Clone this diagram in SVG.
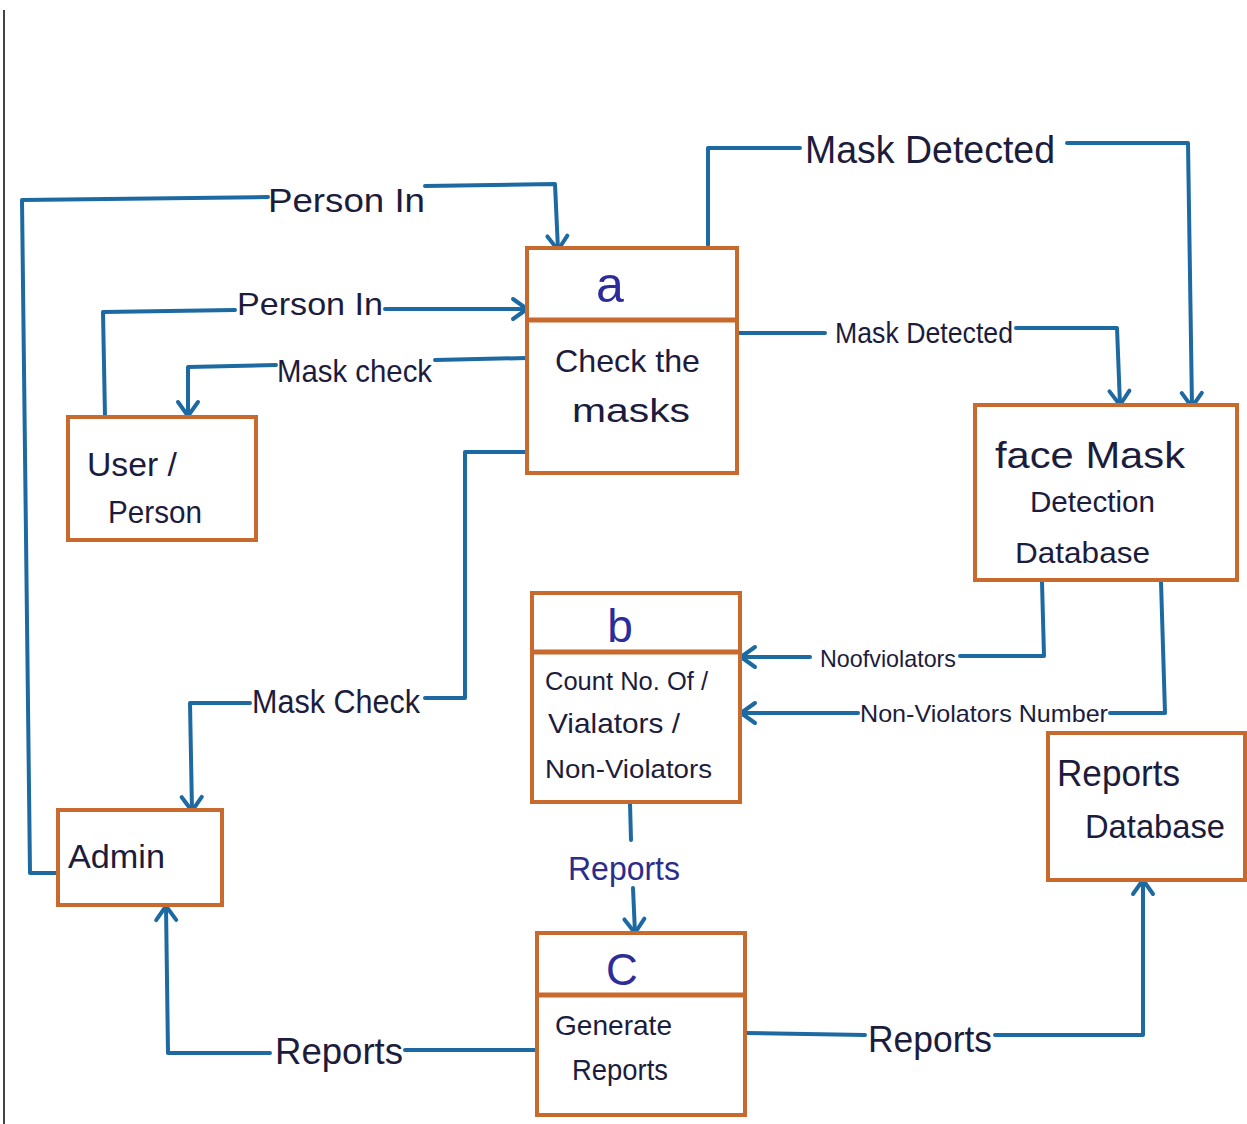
<svg xmlns="http://www.w3.org/2000/svg" width="1247" height="1124" viewBox="0 0 1247 1124">
<style>
.box{fill:#fff;stroke:#c8692e;stroke-width:4}
.div{stroke:#c8692e;stroke-width:5}
.ln{fill:none;stroke:#1d6aa3;stroke-width:4;stroke-linejoin:round;stroke-linecap:round}
.arr{marker-end:url(#ah)}
text{font-family:"Liberation Sans",Arial,sans-serif;fill:#1c1c3c}
.lbl{text-anchor:start}
.pid{fill:#2c2c9a;text-anchor:middle}
</style>
<defs>
<marker id="ah" markerUnits="userSpaceOnUse" markerWidth="26" markerHeight="26" refX="20" refY="13" orient="auto">
<path d="M6,3 L20,13 L6,23" fill="none" stroke="#1d6aa3" stroke-width="4" stroke-linecap="round" stroke-linejoin="round"/>
</marker>
</defs>
<rect width="1247" height="1124" fill="#fff"/>
<line x1="4" y1="10" x2="4" y2="1124" stroke="#444" stroke-width="2"/>

<g id="connectors">
<!-- Person In outer: Admin -> a -->
<polyline class="ln" points="60,873 30,873 22,200 268,197"/>
<polyline class="ln arr" points="425,186 555,184 558,250"/>
<text class="lbl" x="268" y="212" font-size="34" textLength="157" lengthAdjust="spacingAndGlyphs">Person In</text>
<!-- Person In inner: User -> a -->
<polyline class="ln" points="105,417 103,312 235,310"/>
<polyline class="ln arr" points="385,309 527,309"/>
<text class="lbl" x="237" y="315" font-size="32" textLength="146" lengthAdjust="spacingAndGlyphs">Person In</text>
<!-- Mask check: a -> User -->
<polyline class="ln" points="527,358 435,360"/>
<polyline class="ln arr" points="276,365 188,367 188,416"/>
<text class="lbl" x="277" y="382" font-size="32" textLength="155" lengthAdjust="spacingAndGlyphs">Mask check</text>
<!-- Mask Check lower: a -> Admin -->
<polyline class="ln" points="527,452 465,452 465,698 425,698"/>
<polyline class="ln arr" points="250,703 190,703 192,811"/>
<text class="lbl" x="252" y="713" font-size="34" textLength="168" lengthAdjust="spacingAndGlyphs">Mask Check</text>
<!-- Mask Detected top -->
<polyline class="ln" points="708,245 708,148 800,148"/>
<polyline class="ln arr" points="1067,143 1188,143 1192,407"/>
<text class="lbl" x="805" y="163" font-size="38" textLength="250" lengthAdjust="spacingAndGlyphs">Mask Detected</text>
<!-- Mask Detected mid -->
<polyline class="ln" points="737,333 825,333"/>
<polyline class="ln arr" points="1016,328 1117,328 1120,405"/>
<text class="lbl" x="835" y="343" font-size="30" textLength="178" lengthAdjust="spacingAndGlyphs">Mask Detected</text>
<!-- No of violators -->
<polyline class="ln" points="1042,582 1044,656 960,656"/>
<polyline class="ln arr" points="810,657 741,657"/>
<text class="lbl" x="820" y="667" font-size="24" textLength="136" lengthAdjust="spacingAndGlyphs">Noofviolators</text>
<!-- Non-Violators Number -->
<polyline class="ln" points="1161,582 1165,713 1110,713"/>
<polyline class="ln arr" points="858,713 741,713"/>
<text class="lbl" x="860" y="722" font-size="24" textLength="248" lengthAdjust="spacingAndGlyphs">Non-Violators Number</text>
<!-- Reports b -> c -->
<polyline class="ln" points="630,803 631,840"/>
<polyline class="ln arr" points="633,888 635,933"/>
<text class="lbl" x="568" y="880" font-size="34" textLength="112" lengthAdjust="spacingAndGlyphs" style="fill:#2c2c8a">Reports</text>
<!-- Reports c -> Admin -->
<polyline class="ln" points="537,1050 405,1050"/>
<polyline class="ln arr" points="270,1053 168,1053 166,906"/>
<text class="lbl" x="275" y="1064" font-size="36" textLength="128" lengthAdjust="spacingAndGlyphs">Reports</text>
<!-- Reports c -> Reports DB -->
<polyline class="ln" points="745,1033 865,1035"/>
<polyline class="ln arr" points="995,1035 1143,1035 1143,880"/>
<text class="lbl" x="868" y="1052" font-size="36" textLength="124" lengthAdjust="spacingAndGlyphs">Reports</text>
</g>

<g id="process-a">
<rect class="box" x="527" y="248" width="210" height="225"/>
<line class="div" x1="527" y1="320" x2="737" y2="320"/>
<text class="pid" x="610" y="302" font-size="50">a</text>
<text x="555" y="372" font-size="32" textLength="145" lengthAdjust="spacingAndGlyphs">Check the</text>
<text x="572" y="422" font-size="34" textLength="118" lengthAdjust="spacingAndGlyphs">masks</text>
</g>

<g id="user-person">
<rect class="box" x="68" y="417" width="188" height="123"/>
<text x="87" y="476" font-size="34" textLength="90" lengthAdjust="spacingAndGlyphs">User /</text>
<text x="108" y="523" font-size="32" textLength="94" lengthAdjust="spacingAndGlyphs">Person</text>
</g>

<g id="face-mask-db">
<rect class="box" x="975" y="405" width="262" height="175"/>
<text x="995" y="468" font-size="36" textLength="190" lengthAdjust="spacingAndGlyphs">face  Mask</text>
<text x="1030" y="512" font-size="30" textLength="125" lengthAdjust="spacingAndGlyphs">Detection</text>
<text x="1015" y="563" font-size="30" textLength="135" lengthAdjust="spacingAndGlyphs">Database</text>
</g>

<g id="process-b">
<rect class="box" x="532" y="593" width="208" height="209"/>
<line class="div" x1="532" y1="652" x2="740" y2="652"/>
<text class="pid" x="620" y="642" font-size="46">b</text>
<text x="545" y="690" font-size="26" textLength="163" lengthAdjust="spacingAndGlyphs">Count No. Of /</text>
<text x="548" y="733" font-size="28" textLength="132" lengthAdjust="spacingAndGlyphs">Vialators /</text>
<text x="545" y="778" font-size="26" textLength="167" lengthAdjust="spacingAndGlyphs">Non-Violators</text>
</g>

<g id="reports-db">
<rect class="box" x="1048" y="733" width="197" height="147"/>
<text x="1057" y="786" font-size="36" textLength="123" lengthAdjust="spacingAndGlyphs">Reports</text>
<text x="1085" y="838" font-size="34" textLength="140" lengthAdjust="spacingAndGlyphs">Database</text>
</g>

<g id="admin">
<rect class="box" x="58" y="810" width="164" height="95"/>
<text x="68" y="868" font-size="34" textLength="97" lengthAdjust="spacingAndGlyphs">Admin</text>
</g>

<g id="process-c">
<rect class="box" x="537" y="933" width="208" height="182"/>
<line class="div" x1="537" y1="995" x2="745" y2="995"/>
<text class="pid" x="622" y="985" font-size="44">C</text>
<text x="555" y="1035" font-size="28" textLength="117" lengthAdjust="spacingAndGlyphs">Generate</text>
<text x="572" y="1080" font-size="30" textLength="96" lengthAdjust="spacingAndGlyphs">Reports</text>
</g>
</svg>
